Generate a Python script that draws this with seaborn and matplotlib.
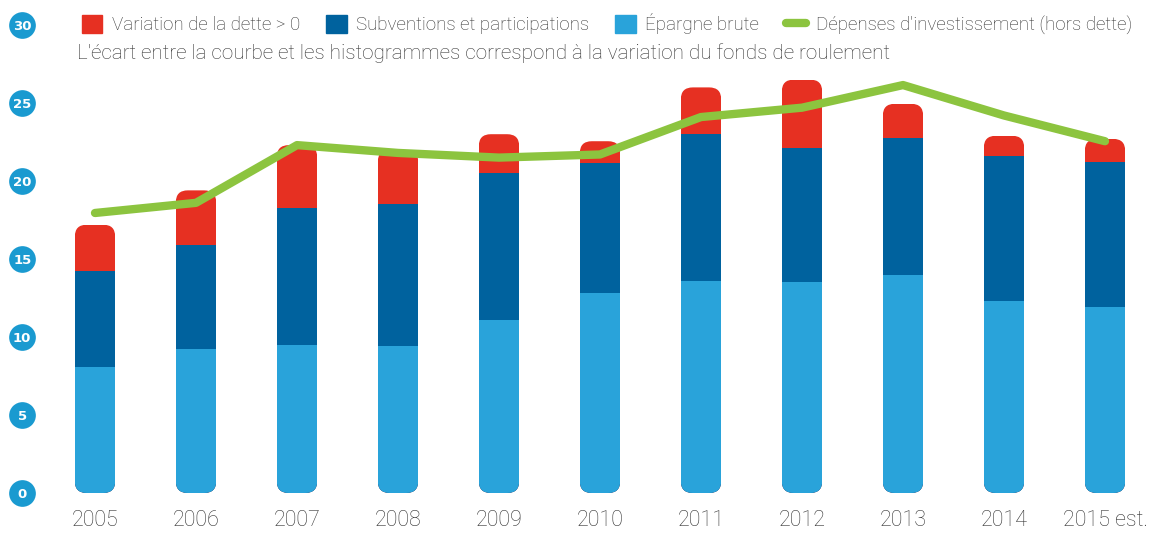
import numpy as np
import pandas as pd
import matplotlib.pyplot as plt
import seaborn as sns
from matplotlib.patches import Patch, FancyBboxPatch
from matplotlib.lines import Line2D

# données (millions d'euros)
annees = ['2005', '2006', '2007', '2008', '2009', '2010', '2011', '2012', '2013', '2014', '2015 est.']
epargne = [8.1, 9.2, 9.5, 9.4, 11.1, 12.8, 13.6, 13.5, 14.0, 12.3, 11.9]
subventions = [6.1, 6.7, 8.8, 9.1, 9.4, 8.35, 9.4, 8.6, 8.75, 9.3, 9.3]
variation_dette = [3.0, 3.5, 4.0, 3.5, 2.5, 1.4, 3.0, 4.4, 2.2, 1.3, 1.5]
depenses = [17.95, 18.6, 22.3, 21.8, 21.5, 21.7, 24.1, 24.7, 26.15, 24.2, 22.55]

ROUGE = '#E63022'
BLEU_FONCE = '#00629E'
BLEU_CLAIR = '#29A3DA'
VERT = '#8CC43F'
GRIS = '#333333'

sns.set_style('white')
plt.rcParams['font.family'] = ['Roboto', 'DejaVu Sans']

df = pd.DataFrame({'annee': annees, 'epargne': epargne,
                   'subventions': subventions, 'dette': variation_dette})
df['haut_sub'] = df['epargne'] + df['subventions']
df['total'] = df['haut_sub'] + df['dette']

W, H = 1158, 534
fig = plt.figure(figsize=(W / 100, H / 100), dpi=100)
ax = fig.add_axes([50 / W, 41 / H, (W - 50) / W, 468 / H])

# histogrammes empilés (superposés du total vers le bas)
sns.barplot(data=df, x='annee', y='total', color=ROUGE, width=0.4, saturation=1, ax=ax)
sns.barplot(data=df, x='annee', y='haut_sub', color=BLEU_FONCE, width=0.4, saturation=1, ax=ax)
sns.barplot(data=df, x='annee', y='epargne', color=BLEU_CLAIR, width=0.4, saturation=1, ax=ax)

ax.set_xlim(-45 / 101, (W - 50) / 101 - 45 / 101)
ax.set_ylim(0, 30)

# coins arrondis : on découpe chaque colonne avec une boîte arrondie
n = len(annees)
px_x = ax.transData.transform((1, 0))[0] - ax.transData.transform((0, 0))[0]
px_y = ax.transData.transform((0, 1))[1] - ax.transData.transform((0, 0))[1]
r = 12 / px_x
aspect = px_x / px_y
bars = ax.patches[:]
for i in range(n):
    tot = bars[i]
    box = FancyBboxPatch((tot.get_x(), 0), tot.get_width(), tot.get_height(),
                         boxstyle=f'round,pad=0,rounding_size={r}',
                         mutation_aspect=aspect, transform=ax.transData)
    for k in range(3):
        bars[k * n + i].set_clip_path(box)
        bars[k * n + i].set_linewidth(0)

# courbe des dépenses d'investissement
sns.lineplot(x=np.arange(n), y=depenses, color=VERT, linewidth=6, ax=ax)
ax.lines[-1].set_solid_capstyle('round')
ax.lines[-1].set_solid_joinstyle('round')

sns.despine(left=True, bottom=True)
ax.set_xlabel('')
ax.set_ylabel('')
yticks = list(range(0, 31, 5))
ax.set_yticks(yticks)
ax.tick_params(axis='both', length=0)
ax.tick_params(axis='x', pad=12, labelsize=15.5, labelcolor=GRIS)
ax.tick_params(axis='y', pad=20, labelsize=9.5, labelcolor='white')
for lbl in ax.get_yticklabels():
    lbl.set_fontfamily('DejaVu Sans')
    lbl.set_fontweight('bold')
    lbl.set_horizontalalignment('center')
for lbl in ax.get_xticklabels():
    lbl.set_fontweight('light')

# pastilles bleues derrière les graduations
ax.scatter([-28 / (W - 50)] * len(yticks), yticks, s=370, color='#1A9AD0',
           transform=ax.get_yaxis_transform(), clip_on=False, zorder=0.2, linewidth=0)

handles = [Patch(color=ROUGE, label='Variation de la dette > 0'),
           Patch(color=BLEU_FONCE, label='Subventions et participations'),
           Patch(color=BLEU_CLAIR, label='Épargne brute'),
           Line2D([], [], color=VERT, lw=6, solid_capstyle='round',
                  label="Dépenses d'investissement (hors dette)")]
fig.legend(handles=handles, loc='upper left', bbox_to_anchor=(74 / W, 1 - 6 / H),
           ncol=4, frameon=False, handlelength=1.1, handleheight=1.05,
           handletextpad=0.5, columnspacing=1.4, borderaxespad=0, labelcolor=GRIS,
           prop={'weight': 'light', 'size': 13.5})

fig.text(77 / W, 1 - 53 / H,
         "L'écart entre la courbe et les histogrammes correspond à la variation du fonds de roulement",
         fontsize=14.9, fontweight='light', color=GRIS, va='center', ha='left')

fig.savefig('out.png', dpi=100)
